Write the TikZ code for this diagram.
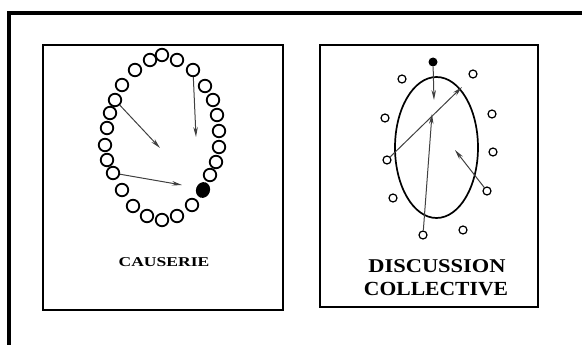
\documentclass[tikz,border=0pt]{standalone}
\usepackage{fontspec}
\setmainfont{Liberation Serif}
\usetikzlibrary{arrows.meta,shapes.geometric}
\tikzset{
  ring/.style={circle,draw=black,line width=1.8pt,minimum size=12.5pt,inner sep=0pt,fill=white},
  blackdot/.style={ellipse,fill=black,minimum width=14pt,minimum height=16pt,inner sep=0pt},
  small/.style={circle,draw=black,line width=1.2pt,minimum size=8pt,inner sep=0pt,fill=white},
  smalldot/.style={circle,fill=black,minimum size=9pt,inner sep=0pt},
  frame/.style={draw=black,line width=2.5pt},
  arr/.style={draw=black!75,line width=1pt,-{Stealth[length=10pt,width=4.5pt]}},
  lbl/.style={font=\bfseries,inner sep=0pt,text=black}
}
\begin{document}
\begin{tikzpicture}[x=1pt,y=-1pt]
\useasboundingbox (0,0) rectangle (582,345);
% outer frame (only left and top visible)
\draw[line width=4pt] (9,360) -- (9,13) -- (600,13);
% boxes
\node[frame,minimum width=240pt,minimum height=265pt,inner sep=0pt] (boxL) at (163,177.5) {};
\node[frame,minimum width=218pt,minimum height=262pt,inner sep=0pt] (boxR) at (429,176) {};
% ---------- left ring ----------
\foreach \p [count=\i] in {
 (162,55),(177,60),(193,70),(205,86),(213,100),(217,115),(219,131),(219,147),(216,162),(210,175),
 (192,205),(177,216),(162,220),(147,216),(133,206),(122,190),(113,173),(107,160),(105,145),(107,128),
 (110,113),(115,100),(122,85),(135,70),(150,60)}
 \node[ring] (c\i) at \p {};
\node[blackdot,rotate=-20] (cb) at (203,190) {};
\coordinate (eL1) at (160,148);
\coordinate (eL2) at (196,137);
\coordinate (eL3) at (182,185);
\draw[arr] (c22) -- (eL1);
\draw[arr] (c3) -- (eL2);
\draw[arr] (c17) -- (eL3);
\node[lbl] (tL) at (164,262.5) {\scalebox{1.3}[1]{\fontsize{13.5pt}{13.5pt}\selectfont CAUSERIE}};
% ---------- right diagram ----------
\node[ellipse,draw=black,line width=1.7pt,minimum width=83pt,minimum height=141pt,inner sep=0pt] (big) at (436.5,147.5) {};
\node[smalldot] (d0) at (433,62) {};
\node[small] (d1) at (402,79) {};
\node[small] (d2) at (473,74) {};
\node[small] (d3) at (385,118) {};
\node[small] (d4) at (492,114) {};
\node[small] (d5) at (387,160) {};
\node[small] (d6) at (493,152) {};
\node[small] (d7) at (393,198) {};
\node[small] (d8) at (487,191) {};
\node[small] (d9) at (423,235) {};
\node[small] (d10) at (463,230) {};
\coordinate (eR1) at (434,100);
\coordinate (eR2) at (462,87);
\coordinate (eR3) at (432,114);
\coordinate (eR4) at (455,150);
\draw[arr] (d0) -- (eR1);
\draw[arr] (d5) -- (eR2);
\draw[arr] (d9) -- (eR3);
\draw[arr] (d8) -- (eR4);
\node[lbl] (tR1) at (437,266.5) {\scalebox{1.15}[1]{\fontsize{19.5pt}{19.5pt}\selectfont DISCUSSION}};
\node[lbl] (tR2) at (436,289.5) {\scalebox{1.08}[1]{\fontsize{20pt}{20pt}\selectfont COLLECTIVE}};
\end{tikzpicture}
\end{document}
